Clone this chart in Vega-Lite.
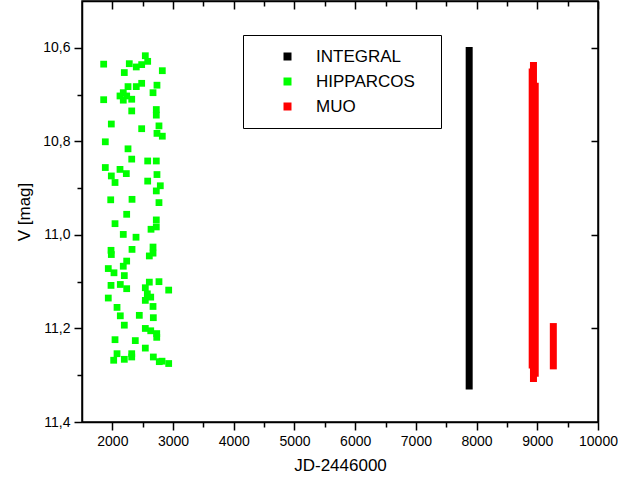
{
  "$schema": "https://vega.github.io/schema/vega-lite/v6.json",
  "width": 516,
  "height": 421,
  "autosize": "none",
  "padding": {"left": 82, "top": 1, "right": 20, "bottom": 67},
  "background": "white",
  "datasets": {
    "hipparcos": [
      {"series": "HIPPARCOS", "jd": 2543, "v": 10.617},
      {"series": "HIPPARCOS", "jd": 2582, "v": 10.629},
      {"series": "HIPPARCOS", "jd": 1857, "v": 10.635},
      {"series": "HIPPARCOS", "jd": 2279, "v": 10.634},
      {"series": "HIPPARCOS", "jd": 2394, "v": 10.641},
      {"series": "HIPPARCOS", "jd": 2483, "v": 10.636},
      {"series": "HIPPARCOS", "jd": 2197, "v": 10.653},
      {"series": "HIPPARCOS", "jd": 2823, "v": 10.649},
      {"series": "HIPPARCOS", "jd": 2483, "v": 10.676},
      {"series": "HIPPARCOS", "jd": 2394, "v": 10.683},
      {"series": "HIPPARCOS", "jd": 2258, "v": 10.683},
      {"series": "HIPPARCOS", "jd": 2735, "v": 10.680},
      {"series": "HIPPARCOS", "jd": 2670, "v": 10.696},
      {"series": "HIPPARCOS", "jd": 2180, "v": 10.696},
      {"series": "HIPPARCOS", "jd": 2126, "v": 10.703},
      {"series": "HIPPARCOS", "jd": 2236, "v": 10.703},
      {"series": "HIPPARCOS", "jd": 2180, "v": 10.712},
      {"series": "HIPPARCOS", "jd": 2319, "v": 10.710},
      {"series": "HIPPARCOS", "jd": 1857, "v": 10.711},
      {"series": "HIPPARCOS", "jd": 2319, "v": 10.735},
      {"series": "HIPPARCOS", "jd": 2724, "v": 10.732},
      {"series": "HIPPARCOS", "jd": 2724, "v": 10.744},
      {"series": "HIPPARCOS", "jd": 1983, "v": 10.763},
      {"series": "HIPPARCOS", "jd": 2483, "v": 10.773},
      {"series": "HIPPARCOS", "jd": 2768, "v": 10.767},
      {"series": "HIPPARCOS", "jd": 2735, "v": 10.783},
      {"series": "HIPPARCOS", "jd": 2823, "v": 10.789},
      {"series": "HIPPARCOS", "jd": 1884, "v": 10.801},
      {"series": "HIPPARCOS", "jd": 2258, "v": 10.816},
      {"series": "HIPPARCOS", "jd": 2319, "v": 10.838},
      {"series": "HIPPARCOS", "jd": 2582, "v": 10.842},
      {"series": "HIPPARCOS", "jd": 2724, "v": 10.842},
      {"series": "HIPPARCOS", "jd": 1884, "v": 10.856},
      {"series": "HIPPARCOS", "jd": 2126, "v": 10.860},
      {"series": "HIPPARCOS", "jd": 2230, "v": 10.869},
      {"series": "HIPPARCOS", "jd": 1983, "v": 10.874},
      {"series": "HIPPARCOS", "jd": 2044, "v": 10.888},
      {"series": "HIPPARCOS", "jd": 2735, "v": 10.871},
      {"series": "HIPPARCOS", "jd": 2582, "v": 10.885},
      {"series": "HIPPARCOS", "jd": 2790, "v": 10.895},
      {"series": "HIPPARCOS", "jd": 2724, "v": 10.906},
      {"series": "HIPPARCOS", "jd": 1973, "v": 10.925},
      {"series": "HIPPARCOS", "jd": 2324, "v": 10.924},
      {"series": "HIPPARCOS", "jd": 2768, "v": 10.931},
      {"series": "HIPPARCOS", "jd": 2236, "v": 10.956},
      {"series": "HIPPARCOS", "jd": 2044, "v": 10.976},
      {"series": "HIPPARCOS", "jd": 2724, "v": 10.968},
      {"series": "HIPPARCOS", "jd": 2724, "v": 10.983},
      {"series": "HIPPARCOS", "jd": 2637, "v": 10.988},
      {"series": "HIPPARCOS", "jd": 2180, "v": 10.999},
      {"series": "HIPPARCOS", "jd": 2390, "v": 11.005},
      {"series": "HIPPARCOS", "jd": 2670, "v": 11.026},
      {"series": "HIPPARCOS", "jd": 2324, "v": 11.031},
      {"series": "HIPPARCOS", "jd": 1978, "v": 11.033},
      {"series": "HIPPARCOS", "jd": 1983, "v": 11.042},
      {"series": "HIPPARCOS", "jd": 2670, "v": 11.039},
      {"series": "HIPPARCOS", "jd": 2609, "v": 11.045},
      {"series": "HIPPARCOS", "jd": 2236, "v": 11.056},
      {"series": "HIPPARCOS", "jd": 2180, "v": 11.067},
      {"series": "HIPPARCOS", "jd": 1933, "v": 11.072},
      {"series": "HIPPARCOS", "jd": 2027, "v": 11.081},
      {"series": "HIPPARCOS", "jd": 2197, "v": 11.087},
      {"series": "HIPPARCOS", "jd": 1978, "v": 11.108},
      {"series": "HIPPARCOS", "jd": 2131, "v": 11.106},
      {"series": "HIPPARCOS", "jd": 2236, "v": 11.115},
      {"series": "HIPPARCOS", "jd": 2609, "v": 11.101},
      {"series": "HIPPARCOS", "jd": 2768, "v": 11.100},
      {"series": "HIPPARCOS", "jd": 2543, "v": 11.113},
      {"series": "HIPPARCOS", "jd": 2928, "v": 11.118},
      {"series": "HIPPARCOS", "jd": 2576, "v": 11.126},
      {"series": "HIPPARCOS", "jd": 2632, "v": 11.133},
      {"series": "HIPPARCOS", "jd": 1933, "v": 11.135},
      {"series": "HIPPARCOS", "jd": 2543, "v": 11.140},
      {"series": "HIPPARCOS", "jd": 2670, "v": 11.153},
      {"series": "HIPPARCOS", "jd": 2077, "v": 11.155},
      {"series": "HIPPARCOS", "jd": 2444, "v": 11.172},
      {"series": "HIPPARCOS", "jd": 2131, "v": 11.173},
      {"series": "HIPPARCOS", "jd": 2675, "v": 11.177},
      {"series": "HIPPARCOS", "jd": 2197, "v": 11.193},
      {"series": "HIPPARCOS", "jd": 2543, "v": 11.200},
      {"series": "HIPPARCOS", "jd": 2632, "v": 11.205},
      {"series": "HIPPARCOS", "jd": 2731, "v": 11.211},
      {"series": "HIPPARCOS", "jd": 2731, "v": 11.219},
      {"series": "HIPPARCOS", "jd": 2044, "v": 11.224},
      {"series": "HIPPARCOS", "jd": 2378, "v": 11.226},
      {"series": "HIPPARCOS", "jd": 2543, "v": 11.242},
      {"series": "HIPPARCOS", "jd": 2077, "v": 11.254},
      {"series": "HIPPARCOS", "jd": 2319, "v": 11.254},
      {"series": "HIPPARCOS", "jd": 2319, "v": 11.261},
      {"series": "HIPPARCOS", "jd": 2022, "v": 11.268},
      {"series": "HIPPARCOS", "jd": 2197, "v": 11.266},
      {"series": "HIPPARCOS", "jd": 2675, "v": 11.261},
      {"series": "HIPPARCOS", "jd": 2773, "v": 11.271},
      {"series": "HIPPARCOS", "jd": 2818, "v": 11.270},
      {"series": "HIPPARCOS", "jd": 2928, "v": 11.275}
    ],
    "bars": [
      {"series": "INTEGRAL", "jd": 7878, "vtop": 10.606, "vbottom": 11.323},
      {"series": "MUO", "jd": 8937, "vtop": 10.638, "vbottom": 11.307},
      {"series": "MUO", "jd": 8916, "vtop": 10.652, "vbottom": 11.278},
      {"series": "MUO", "jd": 8966, "vtop": 10.682, "vbottom": 11.296},
      {"series": "MUO", "jd": 9264, "vtop": 11.196, "vbottom": 11.280}
    ]
  },
  "config": {
    "view": {"stroke": "black", "strokeWidth": 1.5},
    "axis": {
      "grid": false,
      "domainColor": "black",
      "domainWidth": 1.5,
      "tickColor": "black",
      "tickWidth": 1.5,
      "labelColor": "black",
      "labelFont": "Liberation Sans",
      "labelFontSize": 14,
      "titleFont": "Liberation Sans",
      "titleFontSize": 17,
      "titleFontWeight": "normal",
      "titleColor": "black"
    }
  },
  "layer": [
    {
      "data": {"name": "hipparcos"},
      "mark": {"type": "point", "shape": "square", "filled": true, "size": 46, "opacity": 1},
      "encoding": {
        "x": {
          "field": "jd", "type": "quantitative",
          "scale": {"domain": [1500, 10000], "nice": false, "zero": false},
          "axis": {
            "orient": "bottom",
            "title": "JD-2446000",
            "values": [2000, 2500, 3000, 3500, 4000, 4500, 5000, 5500, 6000, 6500, 7000, 7500, 8000, 8500, 9000, 9500, 10000],
            "labelExpr": "datum.value % 1000 === 0 ? datum.value : ''",
            "tickSize": {"condition": {"test": "datum.value % 1000 === 0", "value": 8}, "value": 5},
            "labelPadding": 4,
            "labelFlush": false,
            "labelOverlap": false,
            "titlePadding": 9
          }
        },
        "y": {
          "field": "v", "type": "quantitative",
          "scale": {"domain": [10.5, 11.4], "reverse": true, "nice": false, "zero": false},
          "axis": {
            "orient": "left",
            "title": "V [mag]",
            "values": [10.6, 10.7, 10.8, 10.9, 11.0, 11.1, 11.2, 11.3, 11.4],
            "labelExpr": "round(datum.value * 10) % 2 === 0 ? replace(format(datum.value, '.1f'), '.', ',') : ''",
            "tickSize": {"condition": {"test": "round(datum.value * 10) % 2 === 0", "value": 8}, "value": 5},
            "labelPadding": 4,
            "labelFlush": false,
            "labelOverlap": false,
            "titlePadding": 9
          }
        },
        "color": {
          "field": "series", "type": "nominal",
          "scale": {"domain": ["INTEGRAL", "HIPPARCOS", "MUO"], "range": ["#000000", "#00ff00", "#ff0000"]},
          "legend": {
            "orient": "none",
            "legendX": 161,
            "legendY": 34,
            "title": "o",
            "titleOrient": "right",
            "titleColor": "white",
            "titleFontSize": 10,
            "titlePadding": 6,
            "strokeColor": "black",
            "fillColor": "white",
            "padding": 13,
            "symbolType": "square",
            "symbolSize": 64,
            "symbolOpacity": 1,
            "symbolStrokeWidth": 0,
            "symbolOffset": 23,
            "labelOffset": 20,
            "labelFont": "Liberation Sans",
            "labelFontSize": 17,
            "labelColor": "black",
            "rowPadding": 7
          }
        }
      }
    },
    {
      "data": {"name": "bars"},
      "mark": {"type": "rule", "strokeWidth": 7, "strokeCap": "square"},
      "encoding": {
        "x": {
          "field": "jd", "type": "quantitative",
          "axis": {
            "orient": "top",
            "title": null,
            "labels": false,
            "values": [2000, 2500, 3000, 3500, 4000, 4500, 5000, 5500, 6000, 6500, 7000, 7500, 8000, 8500, 9000, 9500, 10000],
            "tickSize": {"condition": {"test": "datum.value % 1000 === 0", "value": -8}, "value": -5}
          }
        },
        "y": {
          "field": "vtop", "type": "quantitative",
          "axis": {
            "orient": "right",
            "title": null,
            "labels": false,
            "values": [10.6, 10.8, 11.0, 11.2],
            "tickSize": -7
          }
        },
        "y2": {"field": "vbottom"},
        "color": {"field": "series", "type": "nominal", "legend": null}
      }
    }
  ],
  "resolve": {"axis": {"x": "independent", "y": "independent"}}
}
